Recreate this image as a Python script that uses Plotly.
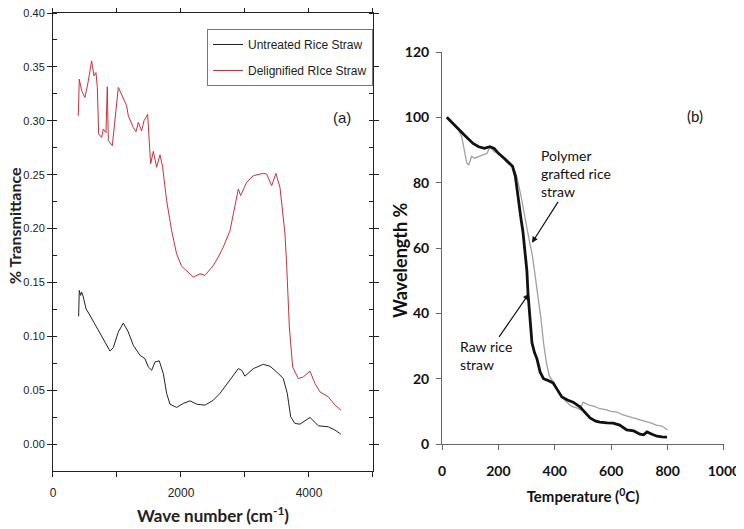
import plotly.graph_objects as go

# ---- Panel (a): FTIR ----
wn_untreated = [401, 411, 432, 448, 474, 516, 578, 682, 786, 891, 943, 1021, 1099, 1177, 1255, 1307, 1359,
                1437, 1489, 1542, 1594, 1661, 1724, 1776, 1828, 1932, 2036, 2141, 2245, 2375, 2505, 2609,
                2766, 2896, 2948, 3000, 3130, 3286, 3391, 3495, 3599, 3661, 3714, 3781, 3859, 4016, 4146,
                4302, 4406, 4495]
tr_untreated = [0.1185, 0.1426, 0.138, 0.141, 0.1364, 0.1256, 0.1194, 0.1086, 0.0978, 0.0864, 0.0895, 0.104,
                0.1123, 0.104, 0.0917, 0.087, 0.0824, 0.0793, 0.0716, 0.0685, 0.0762, 0.0772, 0.0654, 0.047,
                0.037, 0.034, 0.0377, 0.0401, 0.037, 0.0361, 0.0407, 0.047, 0.0593, 0.070, 0.0685, 0.063,
                0.070, 0.074, 0.0722, 0.067, 0.0608, 0.047, 0.0253, 0.0191, 0.0185, 0.0247, 0.017, 0.016,
                0.013, 0.0093]

wn_delig = [396, 411, 448, 500, 552, 604, 641, 672, 693, 714, 760, 786, 828, 849, 865, 927, 1021, 1099, 1151,
            1177, 1255, 1297, 1333, 1385, 1422, 1479, 1526, 1568, 1620, 1672, 1714, 1776, 1854, 1932, 2010,
            2193, 2297, 2375, 2505, 2583, 2661, 2766, 2844, 2896, 2932, 3026, 3130, 3286, 3339, 3417, 3484,
            3547, 3625, 3651, 3693, 3745, 3833, 3911, 4016, 4094, 4172, 4302, 4406, 4500]
tr_delig = [0.3046, 0.3386, 0.328, 0.3216, 0.337, 0.3556, 0.3417, 0.3447, 0.331, 0.2877, 0.2846, 0.2923, 0.289,
            0.3315, 0.2815, 0.2768, 0.331, 0.3216, 0.314, 0.3046, 0.2938, 0.2898, 0.2985, 0.2907, 0.300, 0.306,
            0.26, 0.2716, 0.2568, 0.2685, 0.2568, 0.2259, 0.198, 0.1765, 0.165, 0.155, 0.158, 0.1565, 0.1657,
            0.1735, 0.1827, 0.198, 0.2197, 0.2367, 0.2305, 0.2429, 0.249, 0.2512, 0.2506, 0.2398, 0.2512, 0.238,
            0.195, 0.167, 0.1086, 0.0716, 0.0608, 0.0623, 0.0676, 0.0562, 0.0484, 0.0438, 0.0361, 0.0315]

# ---- Panel (b): TGA ----
temp_raw = [17, 50, 80, 110, 130, 150, 170, 185, 200, 220, 240, 250, 260, 270, 280, 287, 295, 301, 305, 312,
            319, 328, 337, 348, 360, 375, 394, 410, 425, 445, 465, 489, 510, 525, 545, 560, 585, 607, 630,
            655, 680, 702, 715, 727, 745, 762, 780, 798]
wl_raw = [100, 97, 94.5, 92, 91, 90.5, 91, 90.5, 89, 87.5, 86, 85, 82, 75, 69, 65, 59, 53, 46, 38, 31, 28, 26,
          22, 20, 19.5, 18.7, 16.5, 14.4, 13.5, 12.8, 11.4, 9.5, 8, 7, 6.7, 6.5, 6.4, 5.8, 4.3, 4, 3, 2.8,
          3.7, 3, 2.4, 2.2, 2.1]

temp_graft = [17, 40, 60, 70, 80, 88, 95, 105, 115, 130, 145, 160, 170, 185, 200, 215, 230, 250, 265, 280,
              290, 300, 310, 320, 330, 340, 350, 360, 370, 380, 390, 400, 420, 440, 460, 480, 490, 500, 520,
              540, 560, 580, 600, 620, 640, 660, 680, 700, 720, 740, 760, 780, 800]
wl_graft = [100, 98, 96, 94, 89, 86, 85.5, 88, 87.5, 88, 88.5, 89, 91, 89.5, 89, 88, 87, 85, 82, 76, 71, 66,
            62, 58, 52, 46, 39, 31, 25, 21, 19.5, 18, 15, 13, 11.5, 11, 10.5, 12.8, 12, 11.5, 10.8, 10.5, 10,
            9.8, 9, 8.5, 8, 7.6, 7.2, 6.5, 5.8, 5.5, 4.3]

NARROW = "Liberation Sans Narrow, Arial Narrow, Liberation Sans, sans-serif"
CAL = "Lato, Open Sans, sans-serif"

fig = go.Figure()
fig.add_trace(go.Scatter(x=wn_untreated, y=tr_untreated, mode="lines", name="Untreated Rice Straw",
                         legendgroup="g1", line=dict(color="#222222", width=1), xaxis="x", yaxis="y"))
fig.add_trace(go.Scatter(x=wn_delig, y=tr_delig, mode="lines", name="Delignified RIce Straw",
                         legendgroup="g2", line=dict(color="#c8323c", width=1), xaxis="x", yaxis="y"))
fig.add_trace(go.Scatter(x=temp_graft, y=wl_graft, mode="lines", name="Polymer grafted rice straw",
                         line=dict(color="#a0a0a0", width=1.3), xaxis="x2", yaxis="y2", showlegend=False))
fig.add_trace(go.Scatter(x=temp_raw, y=wl_raw, mode="lines", name="Raw rice straw",
                         line=dict(color="#111111", width=2.8), xaxis="x2", yaxis="y2", showlegend=False))

fig.update_layout(
    width=736, height=521,
    margin=dict(l=0, r=0, t=0, b=0),
    paper_bgcolor="white", plot_bgcolor="white",
    showlegend=True,
    legend=dict(x=0.2704, y=0.9597, xanchor="left", yanchor="top", bordercolor="#777777", borderwidth=1,
                bgcolor="white", font=dict(family=NARROW, size=12, color="#222"), tracegroupgap=7,
                itemwidth=30),
    xaxis=dict(domain=[0.0611, 0.4959], range=[0, 5000], dtick=2000, tick0=0, automargin=False,
               ticks="outside", ticklen=5, tickcolor="#222", showline=True, linecolor="#222", linewidth=1,
               mirror="ticks", showgrid=False, zeroline=False, ticklabelstandoff=6, ticklabeloverflow="allow",
               minor=dict(dtick=1000, ticks="outside", ticklen=5, tickcolor="#222"),
               tickfont=dict(family=NARROW, size=12, color="#222"),
               title=dict(text="<b>Wave number (cm<sup>-1</sup>)</b>", standoff=10,
                          font=dict(family=CAL, size=17, color="#222")),
               anchor="y"),
    yaxis=dict(domain=[0.1113, 0.9904], range=[-0.025, 0.40], dtick=0.05, tick0=0, tickformat=".2f",
               automargin=False, ticklabeloverflow="allow",
               ticks="outside", ticklen=5, tickcolor="#222", showline=True, linecolor="#222", linewidth=1,
               mirror="ticks", showgrid=False, zeroline=False,
               minor=dict(dtick=0.025, ticks="inside", ticklen=4, tickcolor="#222"),
               tickfont=dict(family=NARROW, size=11, color="#222"),
               anchor="x"),
    xaxis2=dict(domain=[0.5897, 0.9728], range=[0, 1000], dtick=200, ticks="outside", ticklen=5,
                automargin=False, ticklabelstandoff=9, ticklabeloverflow="allow",
                tickcolor="#666", showline=True, linecolor="#666", linewidth=1, showgrid=False, zeroline=False,
                tickfont=dict(family=CAL, size=14, color="#111", weight="bold"),
                title=dict(text="<b>Temperature (<sup>0</sup>C)</b>", standoff=13,
                           font=dict(family=CAL, size=15, color="#111")),
                anchor="y2"),
    yaxis2=dict(domain=[0.1631, 0.9155], range=[0, 120], dtick=20, ticks="outside", ticklen=5,
                automargin=False, ticklabelstandoff=4, ticklabeloverflow="allow",
                tickcolor="#666", showline=True, linecolor="#666", linewidth=1, showgrid=False, zeroline=False,
                tickfont=dict(family=CAL, size=14, color="#111", weight="bold"),
                anchor="x2"),
    annotations=[
        dict(x=0.0095, y=0.5835, xref="paper", yref="paper", text="<b>% Transmittance</b>", textangle=-90,
             showarrow=False, xanchor="center", yanchor="middle",
             font=dict(family=CAL, size=16, color="#222")),
        dict(x=0.5326, y=0.5163, xref="paper", yref="paper", text="<b>Wavelength %</b>", textangle=-90,
             showarrow=False, xanchor="center", yanchor="middle",
             font=dict(family=CAL, size=18, color="#111")),
        dict(x=4516, y=0.3028, xref="x", yref="y", text="(a)", showarrow=False,
             font=dict(family=NARROW, size=15, color="#222")),
        dict(x=897, y=100.5, xref="x2", yref="y2", text="(b)", showarrow=False,
             font=dict(family=CAL, size=15, color="#111")),
        dict(x=319, y=61.6, ax=475, ay=82.7, xref="x2", yref="y2", axref="x2", ayref="y2",
             text="Polymer<br>grafted rice<br>straw", align="left",
             showarrow=True, arrowhead=2, arrowsize=1, arrowwidth=1.2, arrowcolor="#111",
             font=dict(family=CAL, size=14, color="#111")),
        dict(x=308, y=46, ax=156, ay=27, xref="x2", yref="y2", axref="x2", ayref="y2",
             text="Raw rice<br>straw", align="left",
             showarrow=True, arrowhead=2, arrowsize=1, arrowwidth=1.2, arrowcolor="#111",
             font=dict(family=CAL, size=14, color="#111")),
    ],
)

fig.write_html("out.html")
